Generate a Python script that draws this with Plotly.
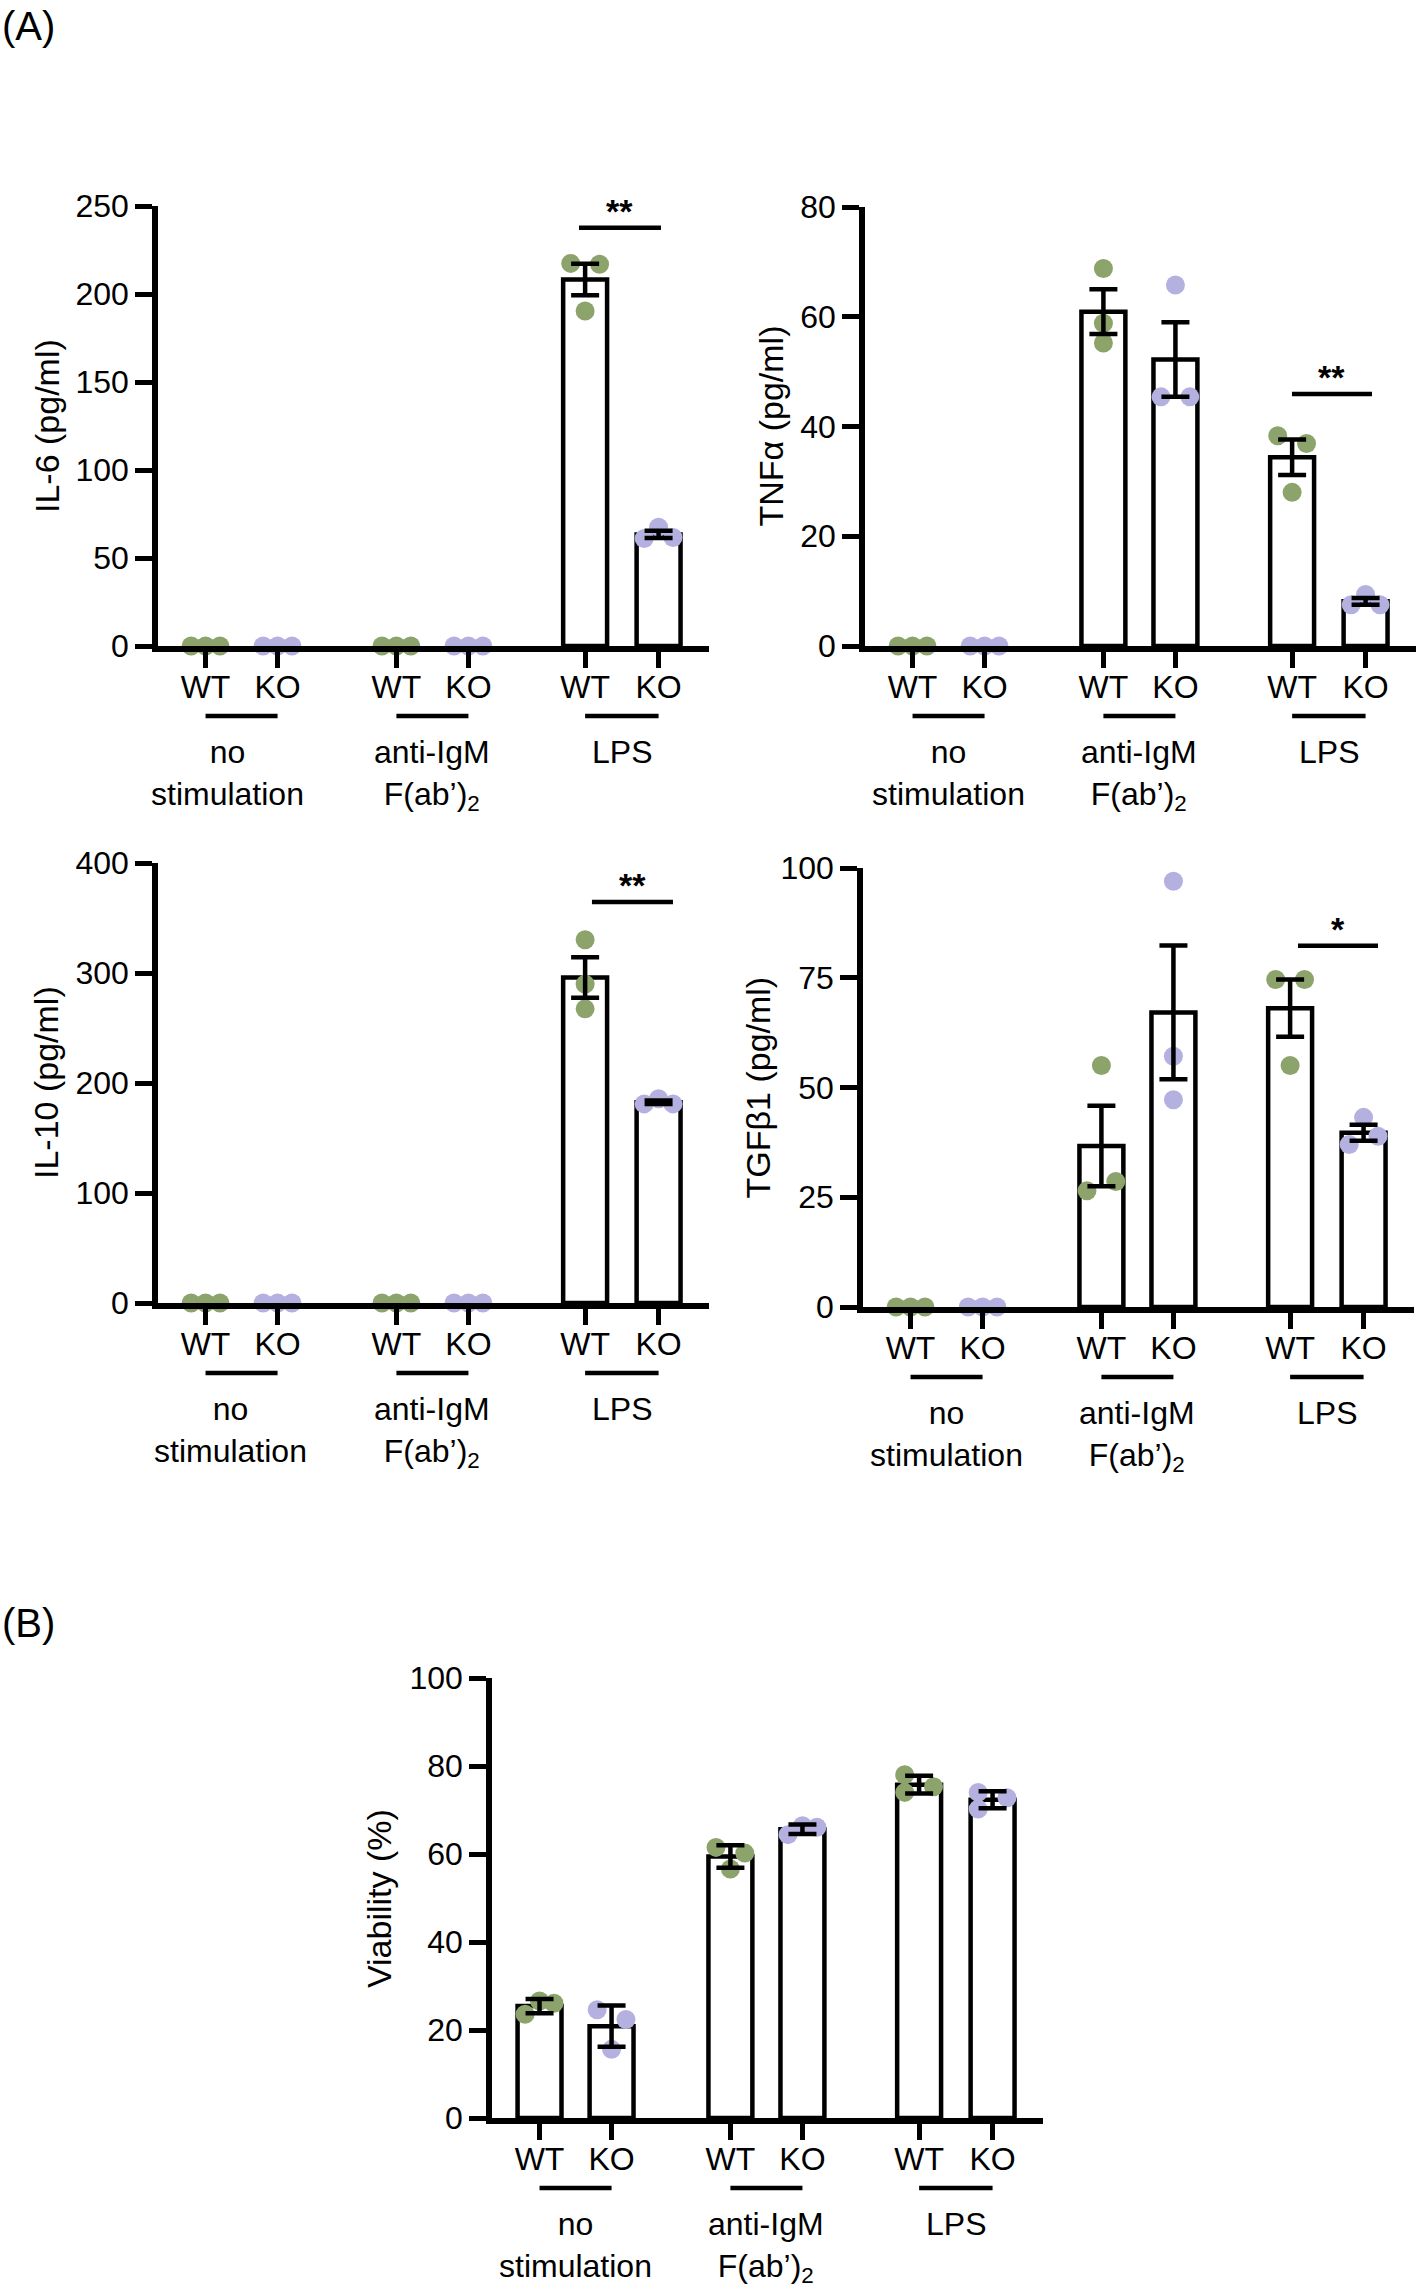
import numpy as np
import plotly.graph_objects as go

W, H = 1418, 2288
FONT = "Arial, 'Liberation Sans', Helvetica, sans-serif"
GREEN = "#8ca36c"
LAV = "#b4b0e0"

# ---------------- data ----------------
tick_labels = ["WT", "KO", "WT", "KO", "WT", "KO"]
group_labels = ["no<br>stimulation", "anti-IgM<br>F(ab’)<sub>2</sub>", "LPS"]
genotype = ["WT", "KO", "WT", "KO", "WT", "KO"]

# each entry: 3 replicate values (left, centre, right dot)
il6_values = [[0, 0, 0], [0, 0, 0], [0, 0, 0], [0, 0, 0],
              [217.4, 190.3, 216.9], [61.1, 67.5, 61.6]]
tnf_values = [[0, 0, 0], [0, 0, 0], [68.8, 58.8, 55.2], [45.4, 65.8, 45.4],
              [38.3, 28.0, 36.9], [7.5, 9.4, 7.5]]
il10_values = [[0, 0, 0], [0, 0, 0], [0, 0, 0], [0, 0, 0],
               [330.3, 289.9, 267.4], [181.0, 185.6, 181.0]]
tgf_values = [[0, 0, 0], [0, 0, 0], [26.5, 55.0, 28.6], [97.0, 57.1, 47.2],
              [74.6, 55.0, 74.6], [37.0, 43.2, 38.9]]
via_values = [[23.6, 26.6, 26.1], [24.6, 15.6, 22.4], [61.5, 56.6, 60.2],
              [64.4, 66.4, 66.1], [78.0, 74.0, 75.3], [74.0, 70.2, 72.8]]

il6_ticks = [0, 50, 100, 150, 200, 250]
tnf_ticks = [0, 20, 40, 60, 80]
il10_ticks = [0, 100, 200, 300, 400]
tgf_ticks = [0, 25, 50, 75, 100]
via_ticks = [0, 20, 40, 60, 80, 100]

# ---------------- layout geometry (pixels) ----------------
cat_x = [0, 1, 2.65, 3.65, 5.27, 6.29]
XR = [-0.66, 6.99]
PW = 551
JIT = [-0.2, 0, 0.2]
STK = [0, 0, 0]
LEFT2 = [-0.2, -0.2, 0.2]

panels = [
    dict(vals=il6_values, ticks=il6_ticks, title="IL-6 (pg/ml)", err="sem",
         x0=158, ytop=206, y0=646, title_x=47, lab_dx=-0.19,
         jit=[JIT] * 6, sig=dict(x=(5.185, 6.323), y=237.7, text="**")),
    dict(vals=tnf_values, ticks=tnf_ticks, title="TNFα (pg/ml)", err="sem",
         x0=865, ytop=207, y0=646, title_x=770, lab_dx=0,
         jit=[JIT, JIT, STK, JIT, JIT, JIT], sig=dict(x=(5.268, 6.379), y=45.9, text="**")),
    dict(vals=il10_values, ticks=il10_ticks, title="IL-10 (pg/ml)", err="sem",
         x0=158, ytop=863, y0=1303, title_x=46, lab_dx=-0.15,
         jit=[JIT, JIT, JIT, JIT, STK, JIT], sig=dict(x=(5.365, 6.49), y=364.6, text="**")),
    dict(vals=tgf_values, ticks=tgf_ticks, title="TGFβ1 (pg/ml)", err="sem",
         x0=863, ytop=868, y0=1307, title_x=757, lab_dx=0,
         jit=[JIT, JIT, JIT, STK, JIT, JIT], sig=dict(x=(5.379, 6.49), y=82.3, text="*")),
    dict(vals=via_values, ticks=via_ticks, title="Viability (%)", err="sd",
         x0=492, ytop=1678, y0=2118, title_x=379, lab_dx=0,
         jit=[JIT, JIT, JIT, JIT, LEFT2, LEFT2], sig=None),
]


def py(p):
    return 1 - p / H


fig = go.Figure()
shapes = []
annotations = []
layout_axes = {}

for i, p in enumerate(panels, start=1):
    xa = f"x{i}" if i > 1 else "x"
    ya = f"y{i}" if i > 1 else "y"
    xkey = f"xaxis{i}" if i > 1 else "xaxis"
    ykey = f"yaxis{i}" if i > 1 else "yaxis"
    vals = np.array(p["vals"], dtype=float)
    means = vals.mean(axis=1)
    sd = vals.std(axis=1, ddof=1)
    err = sd if p["err"] == "sd" else sd / np.sqrt(3)

    fig.add_trace(go.Bar(x=cat_x, y=means, width=0.61, xaxis=xa, yaxis=ya,
                         marker=dict(color="white", line=dict(color="black", width=4.5)),
                         hoverinfo="skip"))
    for geno, col in (("WT", GREEN), ("KO", LAV)):
        xs, ys = [], []
        for k in range(6):
            if genotype[k] != geno:
                continue
            for j in range(3):
                xs.append(cat_x[k] + p["jit"][k][j])
                ys.append(vals[k][j])
        fig.add_trace(go.Scatter(x=xs, y=ys, mode="markers", xaxis=xa, yaxis=ya,
                                 marker=dict(color=col, size=19, line=dict(width=0)),
                                 cliponaxis=False, hoverinfo="skip"))
    mask = means > 0
    fig.add_trace(go.Scatter(x=np.array(cat_x)[mask], y=means[mask], mode="markers",
                             xaxis=xa, yaxis=ya, marker=dict(size=1, opacity=0),
                             error_y=dict(type="data", array=err[mask], color="black",
                                          thickness=4.5, width=14),
                             cliponaxis=False, hoverinfo="skip"))

    ymax = p["ticks"][-1]
    layout_axes[xkey] = dict(
        domain=[p["x0"] / W, (p["x0"] + PW) / W], range=XR, anchor=ya,
        showline=True, linewidth=5.5, linecolor="black", showgrid=False, zeroline=False,
        ticks="outside", ticklen=16, tickwidth=5, tickcolor="black",
        tickvals=cat_x, ticktext=tick_labels, ticklabelstandoff=-8,
        tickfont=dict(family=FONT, size=32, color="black"), fixedrange=True,
        automargin=False)
    layout_axes[ykey] = dict(
        domain=[py(p["y0"]), py(p["ytop"])], range=[0, ymax], anchor=xa,
        showline=True, linewidth=5.5, linecolor="black", showgrid=False, zeroline=False,
        ticks="outside", ticklen=17, tickwidth=5, tickcolor="black",
        tickvals=p["ticks"], tickfont=dict(family=FONT, size=32, color="black"),
        fixedrange=True, automargin=False)

    # group underlines and labels
    for g in range(3):
        xw, xk = cat_x[2 * g], cat_x[2 * g + 1]
        shapes.append(dict(type="line", xref=xa, yref="paper", x0=xw, x1=xk,
                           y0=py(p["y0"] + 70), y1=py(p["y0"] + 70),
                           line=dict(color="black", width=4.5)))
        cx = (xw + xk) / 2 + (p["lab_dx"] if g == 0 else 0)
        annotations.append(dict(text=group_labels[g], xref=xa, yref="paper", x=cx,
                                y=py(p["y0"] + 86), xanchor="center", yanchor="top",
                                showarrow=False, align="center",
                                font=dict(family=FONT, size=32, color="black")))
    # y title
    annotations.append(dict(text=p["title"], xref="paper", yref="paper",
                            x=p["title_x"] / W, y=py((p["y0"] + p["ytop"]) / 2),
                            xanchor="center", yanchor="middle", textangle=-90,
                            showarrow=False, font=dict(family=FONT, size=34, color="black")))
    # significance
    s = p["sig"]
    if s:
        shapes.append(dict(type="line", xref=xa, yref=ya, x0=s["x"][0], x1=s["x"][1],
                           y0=s["y"], y1=s["y"], line=dict(color="black", width=4.5)))
        ypx = p["y0"] - (s["y"] / ymax) * (p["y0"] - p["ytop"])
        annotations.append(dict(text="<b>" + s["text"] + "</b>", xref=xa, yref="paper",
                                x=(s["x"][0] + s["x"][1]) / 2, y=py(ypx - 17),
                                xanchor="center", yanchor="middle", showarrow=False,
                                font=dict(family=FONT, size=34, color="black")))

annotations.append(dict(text="(A)", xref="paper", yref="paper", x=0, y=py(2),
                        xanchor="left", yanchor="top", showarrow=False,
                        font=dict(family=FONT, size=40, color="black")))
annotations.append(dict(text="(B)", xref="paper", yref="paper", x=0, y=py(1623),
                        xanchor="left", yanchor="middle", showarrow=False,
                        font=dict(family=FONT, size=40, color="black")))

fig.update_layout(width=W, height=H, autosize=False,
                  margin=dict(l=0, r=0, t=0, b=0, pad=0, autoexpand=False),
                  paper_bgcolor="white", plot_bgcolor="white",
                  showlegend=False, barmode="overlay",
                  font=dict(family=FONT, size=32, color="black"),
                  shapes=shapes, annotations=annotations, **layout_axes)

post = ("document.documentElement.style.margin='0';document.body.style.margin='0';"
        "document.body.style.padding='0';document.body.style.overflow='hidden';"
        "var d=document.getElementById('{plot_id}');d.style.position='absolute';"
        "d.style.left='0px';d.style.top='0px';")
fig.write_html("out.html", post_script=post, config={"displayModeBar": False})
